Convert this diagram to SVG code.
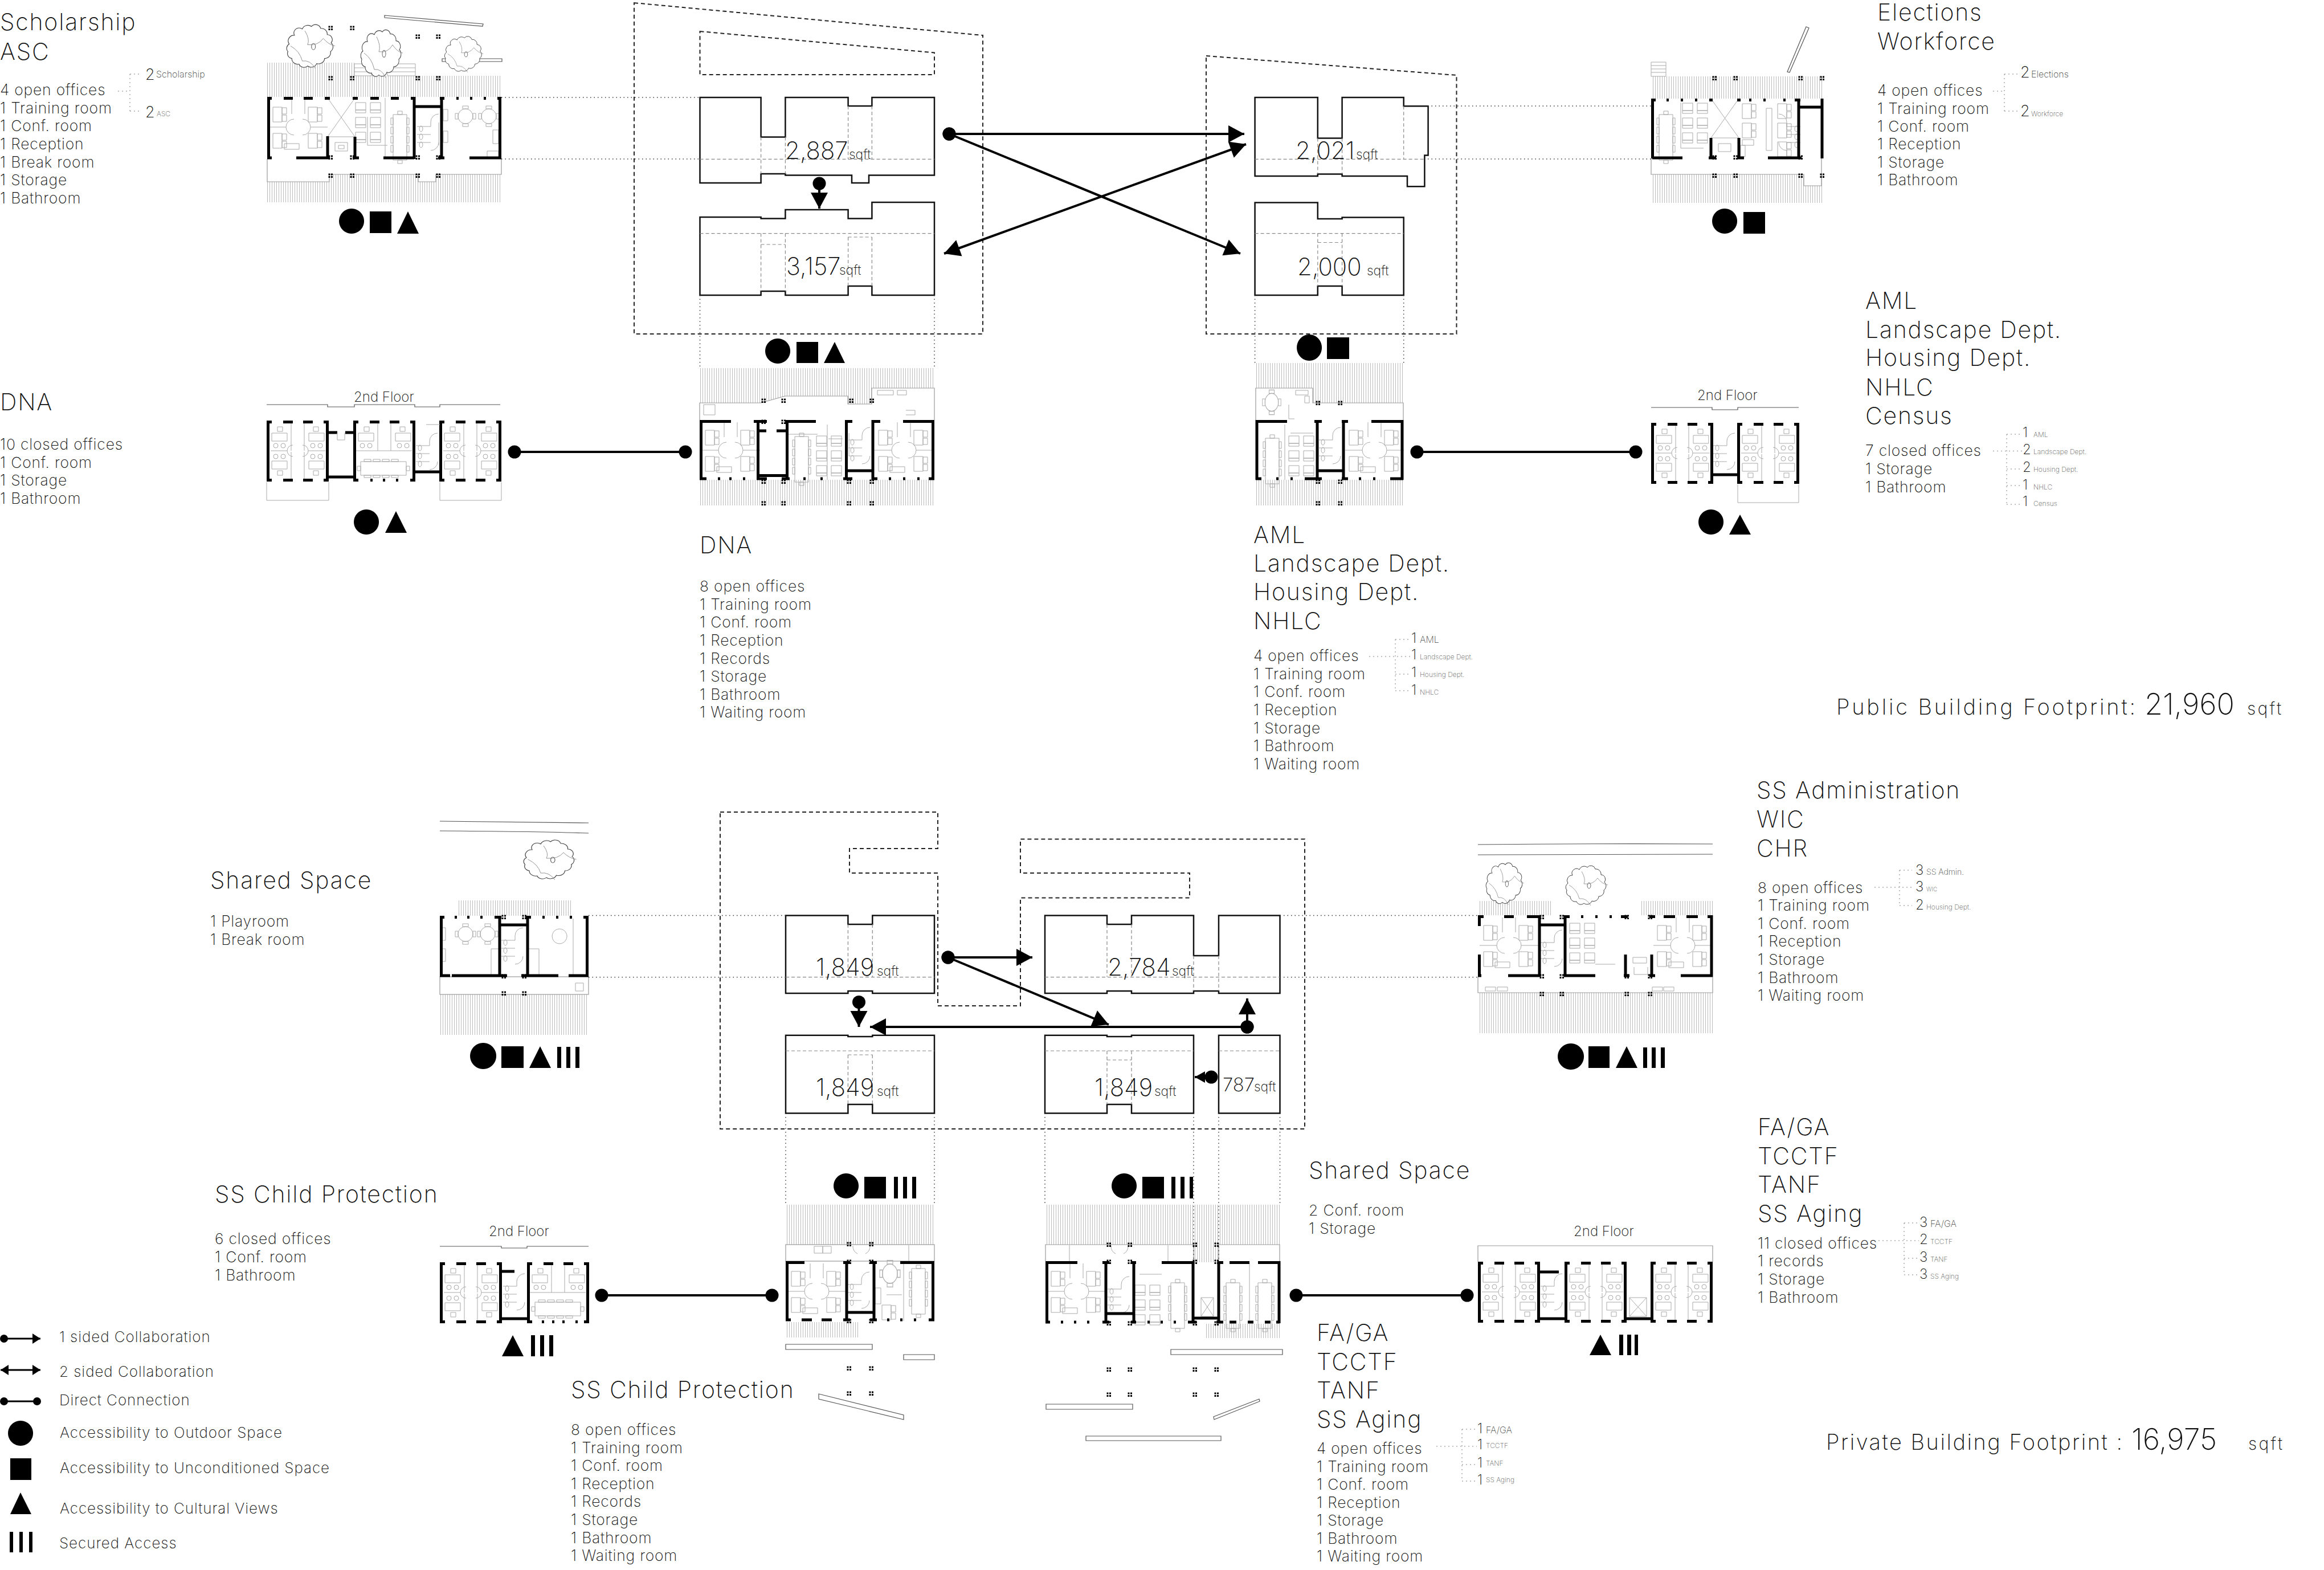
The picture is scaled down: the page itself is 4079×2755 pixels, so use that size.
<svg xmlns="http://www.w3.org/2000/svg" width="4079" height="2755" viewBox="0 0 4079 2755">
<style>
text{font-family:"Inter","Liberation Sans",sans-serif;font-weight:250;fill:#111}
.h{font-size:41px;letter-spacing:1.8px}.l{font-size:26.5px;letter-spacing:.8px}.n{font-size:42px}.q{font-size:23px}.d2{font-size:27px}.sm{font-size:12px;fill:#555}.md{font-size:16px;fill:#444}.fl{font-size:24px}.leg{font-size:26px;letter-spacing:.95px}.ft{font-size:38px}.fb{font-size:52px}.fs{font-size:30px}
.w{fill:none;stroke:#000;stroke-width:5}.f{fill:none;stroke:#aaa;stroke-width:1}.lob{fill:#fff;stroke:#999;stroke-width:1.2}.s{fill:url(#hatch)}.b{fill:#000}
.bar{fill:#fff;stroke:#555;stroke-width:1.2}.rd{fill:none;stroke:#555;stroke-width:1.2}
.dot{fill:none;stroke:#333;stroke-width:1.5;stroke-dasharray:1.5 5}.bd{fill:none;stroke:#aaa;stroke-width:1.5;stroke-dasharray:2 5}
.mass{fill:none;stroke:#222;stroke-width:2;stroke-dasharray:7 5}.blk{fill:none;stroke:#111;stroke-width:2.5}.hid{fill:none;stroke:#888;stroke-width:1.2;stroke-dasharray:6 4}
.c{fill:none;stroke:#000;stroke-width:4}.cs{fill:none;stroke:#000;stroke-width:3}
</style>
<defs>
<pattern id="hatch" width="4" height="8" patternUnits="userSpaceOnUse"><rect x="1" width="1" height="8" fill="#bbb"/></pattern>
<marker id="ah" markerUnits="userSpaceOnUse" viewBox="-30 -18 34 36" markerWidth="34" markerHeight="36" refX="0" refY="0" orient="auto-start-reverse"><path d="M-28 -15L0 0L-28 15Z"/></marker>
<marker id="ahm" markerUnits="userSpaceOnUse" viewBox="-20 -12 22 24" markerWidth="22" markerHeight="24" refX="0" refY="0" orient="auto"><path d="M-18 -10L0 0L-18 10Z"/></marker>
<marker id="nd" markerUnits="userSpaceOnUse" viewBox="-13 -13 26 26" markerWidth="26" markerHeight="26" refX="0" refY="0"><circle r="11.5"/></marker>
<marker id="ahs" markerUnits="userSpaceOnUse" viewBox="-16 -11 18 22" markerWidth="18" markerHeight="22" refX="0" refY="0" orient="auto-start-reverse"><path d="M-14 -9L0 0L-14 9Z"/></marker>
<marker id="nds" markerUnits="userSpaceOnUse" viewBox="-9 -9 18 18" markerWidth="18" markerHeight="18" refX="0" refY="0"><circle r="7"/></marker>
<g id="col" class="b"><rect x="-3.5" y="-3.5" width="3" height="3"/><rect x="1" y="-3.5" width="3" height="3"/><rect x="-3.5" y="1" width="3" height="3"/><rect x="1" y="1" width="3" height="3"/></g>
<path id="dsk" class="f" d="M0 4h16v26h-16zM16 5h8v11h-8zM16 18h8v11h-8z"/>
<path id="tbl" class="f" d="M0 6h24v80h-24zM8 0h8v6h-8zM8 86h8v6h-8zM-4 12h4v12h-4zM-4 28h4v12h-4zM-4 44h4v12h-4zM-4 60h4v12h-4zM24 12h4v12h-4zM24 28h4v12h-4zM24 44h4v12h-4zM24 60h4v12h-4z"/>
<path id="htbl" class="f" d="M6 0h80v24h-80zM0 8h6v8h-6zM86 8h6v8h-6zM12 -4h12v4h-12zM28 -4h12v4h-12zM44 -4h12v4h-12zM60 -4h12v4h-12zM12 24h12v4h-12zM28 24h12v4h-12zM44 24h12v4h-12zM60 24h12v4h-12z"/>
<path id="trn" class="f" d="M0 0h18v13h-18zM26 0h18v13h-18zM0 26h18v13h-18zM26 26h18v13h-18zM0 52h18v13h-18zM26 52h18v13h-18zM0 13h18v5h-18zM26 13h18v5h-18zM0 39h18v5h-18zM26 39h18v5h-18zM0 65h18v5h-18zM26 65h18v5h-18z"/>
<g id="rt" class="f"><circle r="13"/><path d="M-5 -18h10v5h-10zM-5 13h10v5h-10zM-18 -5h5v10h-5zM13 -5h5v10h-5z"/></g>
<path id="wc" class="f" d="M0 22H24M0 36H24M0 50H24M24 22V14A14 14 0 0 1 38 0M24 64A14 14 0 0 0 38 50M4 26a3 5 0 1 0 6 0a3 5 0 1 0-6 0zM4 40a3 5 0 1 0 6 0a3 5 0 1 0-6 0zM4 54a3 5 0 1 0 6 0a3 5 0 1 0-6 0z"/>
<g id="ofc" class="f"><path d="M15 6h9v8h-9zM5 17h27v14h-27z"/><circle cx="12" cy="39" r="4"/><circle cx="25" cy="39" r="4"/></g>
<g id="closed4">
<path class="f" d="M43 5V53M66 5V53M43 55V103M66 55V103M7 53H36M73 53H103M36 53A10 10 0 0 1 46 43M73 53A10 10 0 0 0 63 43M36 53A10 10 0 0 0 46 63M73 53A10 10 0 0 1 63 63"/>
<use href="#ofc" x="4" y="5"/><use href="#ofc" transform="translate(106 5) scale(-1 1)"/><use href="#ofc" transform="translate(4 102) scale(1 -1)"/><use href="#ofc" transform="translate(106 102) scale(-1 -1)"/>
<path class="w" d="M2.5 0V107M106.5 0V107M0 2.5H9M29 2.5H46M64 2.5H81M100 2.5H109M0 104.5H9M29 104.5H46M64 104.5H81M100 104.5H109"/>
</g>
<g id="open">
<path class="f" d="M3 53H33M76 53H106M33 53A14 14 0 0 1 47 39M76 53A14 14 0 0 0 62 39M33 53A14 14 0 0 0 47 67M76 53A14 14 0 0 1 62 67M43 4V30M66 4V30"/>
<use href="#dsk" x="10" y="14"/><use href="#dsk" x="72" y="14"/><use href="#dsk" x="10" y="60"/><use href="#dsk" x="72" y="60"/>
<path class="f" d="M30 92h26v-10h-26z"/>
</g>
<g id="tree"><path fill="#fff" stroke="#444" stroke-width="1" d="M-38 5a8 8 0 0 1 2-12a9 9 0 0 1 8-14a8 8 0 0 1 12-10a9 9 0 0 1 14-4a8 8 0 0 1 14 3a9 9 0 0 1 10 10a8 8 0 0 1 6 13a9 9 0 0 1-1 14a9 9 0 0 1-9 11a9 9 0 0 1-12 8a9 9 0 0 1-14 4a8 8 0 0 1-13-3a9 9 0 0 1-11-9a8 8 0 0 1-6-11z"/><path fill="none" stroke="#888" stroke-width=".8" d="M-34 -4q14 8 18 24q12 -2 20 12M-12 -28q8 14 4 22q16 2 24 -10q8 10 18 12"/><ellipse cx="1" cy="-3" rx="3" ry="5" fill="none" stroke="#666"/></g>
</defs>
<rect width="4079" height="2755" fill="#fff"/>

<g id="plan-scholarship">
<rect class="s" x="469" y="110" width="153" height="60"/><rect class="s" x="622" y="133" width="258" height="37"/><rect class="s" x="469" y="306" width="411" height="49"/>
<path class="lob" d="M469 279V319H578V306H734V319H765V306H880V279"/>
<path class="f" d="M622 112h30v21h-30zM622 119h30M622 126h30M680 112h49v21h-49zM680 119h49M680 126h49"/>
<use href="#tree" transform="translate(549 85) scale(1.15 1.1)"/><use href="#tree" transform="translate(673 98) scale(1 1.2)"/>
<path class="bar" d="M675 27L848 42L847 46L675 31ZM776 103h105v5h-105z"/>
<use href="#tree" transform="translate(817 98) scale(.92 .9)"/>
<use href="#open" x="469" y="170"/>
<path class="f" d="M575 172L623 240M623 172L575 240M575 240H623M676 172V277M645 205V255H680M770 215V255"/>
<path class="f" d="M588 250h22v15h-22zM594 255h10v6h-10z"/>
<use href="#trn" x="624" y="180"/><use href="#tbl" x="690" y="195"/><use href="#wc" x="732" y="200"/>
<use href="#rt" x="817" y="204"/><use href="#rt" x="858" y="204"/>
<path class="f" d="M778 192h8v20h-8zM778 230h8v20h-8zM865 228h10v24h-10zM855 265h20v12h-20z"/>
<path class="w" d="M471.5 170V279M877.5 170V279M727 170V279M775 170V279M727 187H775M575 239V279M623 240V279M469 172.5H477M498 172.5H514M533 172.5H549M570 172.5H579M619 172.5H628M650 172.5H665M686 172.5H700M721 172.5H729M772 172.5H780M801 172.5H805M825 172.5H829M849 172.5H853M873 172.5H880M469 277H477M520 277H579M619 277H630M673 277H727M769 277H780M824 277H880"/>
<use href="#col" x="580" y="49"/><use href="#col" x="618" y="49"/><use href="#col" x="733" y="64"/><use href="#col" x="769" y="64"/><use href="#col" x="580" y="137"/><use href="#col" x="618" y="137"/><use href="#col" x="733" y="137"/><use href="#col" x="769" y="137"/><use href="#col" x="580" y="276"/><use href="#col" x="618" y="276"/><use href="#col" x="733" y="276"/><use href="#col" x="769" y="276"/><use href="#col" x="580" y="308"/><use href="#col" x="618" y="308"/><use href="#col" x="733" y="308"/><use href="#col" x="769" y="308"/>
<path class="b" d="M617 366a22 22 0 1 0 .1 0zM649 371h38v38h-38zM716 371L735 410H697Z"/>
</g>

<g id="plan-elections">
<rect class="s" x="2898" y="134" width="303" height="39"/><rect class="s" x="2898" y="306" width="303" height="50"/>
<path class="lob" d="M2898 278V306H3166V326H3197V278"/>
<path class="f" d="M2898 109h26v25h-26zM2898 115h26M2898 121h26M2898 127h26"/>
<path class="bar" d="M3137 126L3170 47L3175 49L3141 127Z"/>
<use href="#tbl" x="2912" y="195"/><use href="#trn" x="2953" y="181"/>
<path class="f" d="M3003 173L3052 242M3052 173L3003 242M3003 242H3052M3016 252h22v14h-22zM2950 180V260H2990"/>
<use href="#dsk" x="3058" y="178"/><use href="#dsk" x="3058" y="212"/><use href="#dsk" x="3120" y="178"/><use href="#dsk" x="3120" y="212"/><use href="#dsk" x="3120" y="245"/>
<path class="f" d="M3100 190h10v74h-10zM3058 245h20v10h-20zM3055 255h8v20h-8z"/>
<use href="#wc" x="3162" y="200" transform="translate(6322 0) scale(-1 1)"/>
<path class="w" d="M2900.5 173V278M3003 242V278M3052 242V278M3157 173V278M3198 173V278M3157 188H3198M2898 175.5H2906M2925 175.5H2929M2950 175.5H2954M2975 175.5H2979M3000 175.5H3006M3049 175.5H3055M3070 175.5H3074M3095 175.5H3099M3130 175.5H3134M3150 175.5H3160M2900 277H2953M2999 277H3012M3049 277H3061M3103 277H3162"/>
<use href="#col" x="3009" y="137"/><use href="#col" x="3046" y="137"/><use href="#col" x="3160" y="137"/><use href="#col" x="3198" y="137"/><use href="#col" x="3009" y="276"/><use href="#col" x="3046" y="276"/><use href="#col" x="3160" y="276"/><use href="#col" x="3009" y="308"/><use href="#col" x="3046" y="308"/><use href="#col" x="3160" y="308"/><use href="#col" x="3198" y="308"/>
<path class="b" d="M3027 366a22 22 0 1 0 .1 0zM3060 372h38v38h-38z"/>
</g>

<g id="plan-dna-2nd">
<path class="rd" d="M468 710H575V714H622V710H728V714H772V710H878"/>
<path class="f" d="M468 846V878H577V846M772 846V878H880V846"/>
<use href="#closed4" x="468" y="738"/>
<g transform="translate(620 738)"><use href="#ofc" x="4" y="5"/><use href="#ofc" transform="translate(106 5) scale(-1 1)"/><path class="f" d="M43 5V53M66 5V53M5 53H103"/><use href="#htbl" x="7" y="72"/><path class="w" d="M2.5 0V107M106.5 0V107M0 2.5H9M29 2.5H46M64 2.5H81M100 2.5H109M0 104.5H9M30 104.5H34M52 104.5H56M75 104.5H79M100 104.5H109"/></g>
<use href="#closed4" x="771" y="738"/>
<use href="#wc" x="730" y="760"/>
<path class="w" d="M577 759H592M606 759H622M577 837H622M728 828H772"/>
<path class="f" d="M592 759V772H605V759M748 745H772"/>
<path class="b" d="M643 894a22 22 0 1 0 .1 0zM695 897L714 935H676Z"/>
</g>

<g id="plan-dna-1st">
<rect class="s" x="1228" y="646" width="412" height="91"/><rect class="s" x="1228" y="842" width="412" height="45"/>
<path class="lob" d="M1228 737V707H1335L1378 695H1488V709H1530V681H1640V737"/>
<path class="f" d="M1540 685h28v8h-28zM1575 685h16v8h-16zM1235 710h20v18h-20zM1590 720h16v8h-16"/>
<use href="#open" x="1228" y="737"/><use href="#open" x="1532" y="737"/>
<path class="f" d="M1381 762H1435M1452 745V842M1454 770h25M1490 760V800"/>
<use href="#tbl" x="1395" y="760"/><use href="#trn" x="1433" y="765"/><use href="#wc" x="1489" y="750"/>
<path class="w" d="M1230.5 737V842M1637.5 737V842M1330.5 737V842M1381.5 737V842M1485.5 737V842M1532 737V842M1333 756H1345M1363 756H1379M1333 834.5H1379M1488 826H1530M1228 739.5H1283M1323 739.5H1346M1378 739.5H1432M1483 739.5H1496M1530 739.5H1545M1585 739.5H1640M1228 840H1240M1260 840H1264M1280 840H1284M1304 840H1308M1328 840H1346M1372 840H1386M1410 840H1414M1440 840H1444M1480 840H1496M1530 840H1540M1560 840H1564M1585 840H1589M1610 840H1614M1630 840H1640"/>
<use href="#col" x="1340" y="703"/><use href="#col" x="1375" y="703"/><use href="#col" x="1494" y="703"/><use href="#col" x="1530" y="703"/><use href="#col" x="1340" y="740"/><use href="#col" x="1375" y="740"/><use href="#col" x="1340" y="845"/><use href="#col" x="1375" y="845"/><use href="#col" x="1490" y="845"/><use href="#col" x="1530" y="845"/><use href="#col" x="1340" y="883"/><use href="#col" x="1375" y="883"/><use href="#col" x="1490" y="883"/><use href="#col" x="1530" y="883"/>
<path class="b" d="M1365 594a22 22 0 1 0 .1 0zM1398 600h38v37h-38zM1465 600L1483 637H1446Z"/>
</g>

<g id="plan-aml-1st">
<rect class="s" x="2204" y="637" width="259" height="100"/><rect class="s" x="2204" y="842" width="259" height="45"/>
<path class="lob" d="M2204 737V681H2304V707H2463V737"/>
<use href="#rt" transform="translate(2232 706) scale(.9 1.2)"/>
<path class="f" d="M2274 685h22v8h-22zM2290 695h8v12h-8zM2262 710V735H2272"/>
<use href="#tbl" x="2221" y="763"/><use href="#trn" x="2262" y="765"/><use href="#open" x="2358" y="737"/><use href="#wc" x="2315" y="750"/>
<path class="f" d="M2255 745V842M2265 760H2305"/>
<path class="w" d="M2206 737V842M2461 737V842M2312 737V842M2358 737V842M2314 826H2356M2204 739.5H2259M2307 739.5H2320M2355 739.5H2366M2407 739.5H2463M2204 840H2214M2240 840H2244M2265 840H2269M2290 840H2320M2355 840H2366M2385 840H2389M2410 840H2414M2440 840H2463"/>
<use href="#col" x="2313" y="707"/><use href="#col" x="2352" y="707"/><use href="#col" x="2313" y="845"/><use href="#col" x="2352" y="845"/><use href="#col" x="2313" y="883"/><use href="#col" x="2352" y="883"/>
<path class="b" d="M2298 587a22 23 0 1 0 .1 0zM2329 592h39v38h-39z"/>
</g>

<g id="plan-aml-2nd">
<path class="rd" d="M2898 715H3005V719H3050V715H3157"/>
<path class="f" d="M3050 850V882H3157V850"/>
<use href="#closed4" x="2898" y="742"/><use href="#closed4" x="3049" y="742"/><use href="#wc" x="3007" y="760"/>
<path class="w" d="M3005 833H3050"/>
<path class="b" d="M3003 894a22 22 0 1 0 .1 0zM3054 903L3073 938H3035Z"/>
</g>

<g id="plan-shared">
<path class="rd" d="M772 1441Q940 1443 1033 1444M772 1458Q940 1459 1033 1462"/>
<use href="#tree" transform="translate(969 1512) scale(1.25 1)"/>
<rect class="s" x="802" y="1580" width="200" height="27"/><rect class="s" x="772" y="1745" width="261" height="71"/>
<rect class="lob" x="772" y="1714" width="261" height="31"/>
<use href="#rt" x="817" y="1639"/><use href="#rt" x="856" y="1639"/>
<path class="f" d="M776 1628h6v22h-6zM776 1665h6v22h-6zM862 1665h14v48h-14zM1006 1612V1712M926 1665h20v47h-20zM982 1630a13 13 0 1 0 .1 0zM1010 1725h14v14h-14z"/>
<use href="#wc" x="880" y="1628"/>
<path class="w" d="M774.5 1607V1714M877 1607V1714M926 1607V1714M1030.5 1607V1714M877 1623H926M772 1609.5H780M798 1609.5H802M820 1609.5H824M843 1609.5H847M868 1609.5H880M922 1609.5H932M952 1609.5H956M976 1609.5H980M1000 1609.5H1004M1024 1609.5H1033M772 1712H790M793 1712H877M926 1712H980M998 1712H1033M877 1712H890M915 1712H926"/>
<use href="#col" x="884" y="1609"/><use href="#col" x="920" y="1609"/><use href="#col" x="884" y="1713"/><use href="#col" x="920" y="1713"/><use href="#col" x="884" y="1743"/><use href="#col" x="920" y="1743"/>
<path class="b" d="M848 1830a23 23 0 1 0 .1 0zM880 1836h39v38h-39zM948 1836L967 1874H929ZM978 1837h7v37h-7zM994 1837h7v37h-7zM1010 1837h7v37h-7z"/>
</g>

<g id="plan-child-2nd">
<path class="rd" d="M772 2187H880V2190H925V2187H1033"/>
<use href="#closed4" x="772" y="2215"/>
<g transform="translate(925 2215)"><use href="#ofc" x="4" y="5"/><use href="#ofc" transform="translate(106 5) scale(-1 1)"/><path class="f" d="M43 5V53M66 5V53M5 53H103"/><use href="#htbl" x="8" y="70"/><path class="w" d="M2.5 0V107M106.5 0V107M0 2.5H9M29 2.5H46M64 2.5H81M100 2.5H109M0 104.5H9M26 104.5H30M44 104.5H48M62 104.5H66M85 104.5H89M100 104.5H109"/></g>
<use href="#wc" x="883" y="2235"/>
<path class="w" d="M880 2231H903M880 2314H925"/>
<path class="b" d="M900 2343L919 2380H881ZM932 2343h7v37h-7zM948 2343h7v37h-7zM964 2343h7v37h-7z"/>
</g>

<g id="plan-child-1st">
<rect class="s" x="1379" y="2114" width="261" height="70"/><rect class="s" x="1379" y="2320" width="130" height="27"/>
<rect class="lob" x="1379" y="2184" width="261" height="29"/>
<path class="f" d="M1429 2187h15v12h-15zM1444 2187h15v12h-15zM1497 2186a14 14 0 0 0 8 14M1527 2186a14 14 0 0 1-8 14M1595 2185V2213"/>
<use href="#open" x="1379" y="2213"/><use href="#wc" x="1488" y="2232"/><use href="#tbl" x="1600" y="2220"/>
<use href="#rt" transform="translate(1562 2235) scale(1 1.3)"/><use href="#dsk" x="1548" y="2286"/>
<path class="f" d="M1586 2216V2318M1536 2260h10v28h-10zM1556 2272H1583"/>
<path class="w" d="M1381.5 2213V2318M1637.5 2213V2318M1486 2213V2318M1534 2213V2318M1487 2303H1533M1379 2215.5H1412M1480 2215.5H1492M1527 2215.5H1539M1580 2215.5H1640M1379 2316H1388M1407 2316H1425M1442 2316H1460M1480 2316H1492M1527 2316H1539M1557 2316H1561M1580 2316H1584M1604 2316H1608M1630 2316H1640"/>
<use href="#col" x="1490" y="2183"/><use href="#col" x="1529" y="2183"/><use href="#col" x="1490" y="2214"/><use href="#col" x="1529" y="2214"/><use href="#col" x="1490" y="2318"/><use href="#col" x="1529" y="2318"/><use href="#col" x="1490" y="2401"/><use href="#col" x="1529" y="2401"/><use href="#col" x="1490" y="2445"/><use href="#col" x="1529" y="2445"/>
<path class="bar" d="M1379 2359h152v9h-152zM1586 2377h54v9h-54zM1437 2446L1586 2483V2491L1437 2455Z"/>
<path class="b" d="M1485 2059a22 22 0 1 0 .1 0zM1517 2065h38v38h-38zM1569 2065h7v38h-7zM1585 2065h7v38h-7zM1601 2065h7v38h-7z"/>
</g>

<g id="plan-shared-1st">
<rect class="s" x="1835" y="2114" width="411" height="71"/><rect class="s" x="2095" y="2185" width="44" height="30"/><rect class="s" x="2116" y="2323" width="130" height="25"/>
<path class="lob" d="M1835 2213V2184H2095V2213M2139 2213V2184H2246V2213"/>
<path class="f" d="M1950 2186a14 14 0 0 0 8 14M1980 2186a14 14 0 0 1-8 14M1877 2185V2213M2050 2185V2213"/>
<use href="#open" x="1835" y="2213"/><use href="#wc" x="1944" y="2240"/><use href="#trn" x="1992" y="2255"/>
<use href="#tbl" x="2055" y="2245"/><use href="#tbl" x="2152" y="2245"/><use href="#tbl" x="2208" y="2245"/>
<path class="f" d="M2193 2216V2322M2108 2277h22v33h-22zM2108 2277L2130 2310M2130 2277L2108 2310M2000 2236H2039"/>
<path class="w" d="M1837.5 2213V2322M1941 2213V2322M1990 2213V2322M2094 2213V2322M2139 2213V2322M2245 2213V2322M1942 2305H1989M2094 2313H2139M1835 2215.5H1891M1935 2215.5H1947M1985 2215.5H1994M2039 2215.5H2094M2139 2215.5H2147M2158 2215.5H2193M2208 2215.5H2246M1835 2320H1843M1862 2320H1866M1885 2320H1889M1908 2320H1912M1935 2320H1947M1985 2320H1994M2014 2320H2018M2037 2320H2041M2060 2320H2064M2085 2320H2100M2135 2320H2147M2158 2320H2170M2190 2320H2200M2220 2320H2230M2240 2320H2246"/>
<use href="#col" x="1946" y="2184"/><use href="#col" x="1983" y="2184"/><use href="#col" x="2097" y="2184"/><use href="#col" x="2135" y="2184"/><use href="#col" x="1946" y="2214"/><use href="#col" x="1983" y="2214"/><use href="#col" x="2097" y="2214"/><use href="#col" x="2135" y="2214"/><use href="#col" x="1946" y="2322"/><use href="#col" x="1983" y="2322"/><use href="#col" x="2097" y="2322"/><use href="#col" x="2135" y="2322"/><use href="#col" x="1946" y="2403"/><use href="#col" x="1983" y="2403"/><use href="#col" x="2097" y="2403"/><use href="#col" x="2135" y="2403"/><use href="#col" x="1946" y="2447"/><use href="#col" x="1983" y="2447"/><use href="#col" x="2097" y="2447"/><use href="#col" x="2135" y="2447"/>
<path class="bar" d="M2055 2368h196v9h-196zM1836 2464h152v9h-152zM1906 2520h237v8h-237zM2130 2486L2210 2455L2211 2459L2131 2491Z"/>
<path class="b" d="M1973 2059a22 22 0 1 0 .1 0zM2005 2065h38v38h-38zM2056 2065h7v38h-7zM2072 2065h7v38h-7zM2088 2065h6v38h-6z"/>
</g>

<g id="plan-fa-2nd">
<path class="lob" d="M2594 2214V2186H3006V2214"/>
<use href="#closed4" x="2594" y="2214"/><use href="#closed4" x="2746" y="2214"/><use href="#closed4" x="2897" y="2214"/><use href="#wc" x="2704" y="2235"/>
<path class="f" d="M2860 2277h30v33h-30zM2860 2277L2890 2310M2890 2277L2860 2310"/>
<path class="w" d="M2702 2232H2736M2702 2314H2746M2853 2314H2897"/>
<path class="b" d="M2809 2342L2828 2378H2790ZM2842 2342h7v36h-7zM2856 2342h7v36h-7zM2869 2342h6v36h-6z"/>
</g>

<g id="plan-ss-admin">
<path class="rd" d="M2594 1482Q2800 1480 3006 1481M2594 1500Q2800 1500 3006 1499"/>
<rect class="s" x="2594" y="1581" width="130" height="25"/><rect class="s" x="2880" y="1581" width="126" height="25"/><rect class="s" x="2594" y="1742" width="412" height="71"/>
<use href="#tree" transform="translate(2644 1554) scale(.9 1.05)"/><use href="#tree" transform="translate(2788 1557) scale(1 1)"/>
<path class="lob" d="M2594 1714V1742H3006V1714"/>
<path class="f" d="M2607 1732h18v7h-18zM2628 1732h18v7h-18zM2900 1732h18v7h-18zM2920 1732h18v7h-18zM2868 1697V1710H2892V1697M2866 1680h24v10h-24zM2800 1692H2835"/>
<use href="#open" x="2594" y="1606"/><use href="#open" x="2899" y="1606"/><use href="#wc" x="2704" y="1632"/><use href="#trn" x="2755" y="1620"/>
<path class="w" d="M2596.5 1606V1625M2596.5 1675V1714M2702 1606V1714M2747 1606V1714M2853 1675V1714M2899 1675V1714M3004 1606V1714M2702 1623H2747M2594 1608.5H2604M2640 1608.5H2657M2680 1608.5H2704M2745 1608.5H2755M2775 1608.5H2779M2800 1608.5H2804M2825 1608.5H2829M2845 1608.5H2857M2895 1608.5H2905M2920 1608.5H2940M2960 1608.5H2980M2997 1608.5H3006M2594 1712H2600M2647 1712H2702M2745 1712H2800M2850 1712H2860M2895 1712H2905M2950 1712H3006"/>
<use href="#col" x="2706" y="1609"/><use href="#col" x="2741" y="1609"/><use href="#col" x="2855" y="1609"/><use href="#col" x="2896" y="1609"/><use href="#col" x="2706" y="1713"/><use href="#col" x="2741" y="1713"/><use href="#col" x="2855" y="1713"/><use href="#col" x="2896" y="1713"/><use href="#col" x="2706" y="1744"/><use href="#col" x="2741" y="1744"/><use href="#col" x="2855" y="1744"/><use href="#col" x="2896" y="1744"/>
<path class="b" d="M2757 1831a23 23 0 1 0 .1 0zM2788 1836h37v38h-37zM2855 1836L2874 1874H2836ZM2884 1838h7v36h-7zM2899 1838h7v36h-7zM2915 1838h7v36h-7z"/>
</g>

<g id="massing-top">
<path class="mass" d="M1113 5L1725 62V586H1113Z"/><path class="mass" d="M1228.5 55L1640 92.5V131H1228.5Z"/><path class="mass" d="M2117 98L2556.5 132V586H2117Z"/>
<g id="block-2887"><path class="blk" d="M1228.5 171H1335.6V240.5H1378.4V171H1488.6V186H1530.4V171H1640V307.5H1525V321H1495V307.5H1378.4V305H1335.6V321H1228.5Z"/><path class="hid" d="M1228.5 279.4H1640M1335.6 240.5V305M1378.4 240.5V305M1488.6 186V279M1530.4 186V279"/><text class="n" x="1378" y="279">2,887</text><text class="q" x="1490" y="279">sqft</text></g>
<g id="block-3157"><path class="blk" d="M1228.5 381H1335.6V383.4H1378.4V368H1488.6V383.4H1530.4V355H1640V518H1530.4V502H1488.6V518H1378.4V511H1335.6V518H1228.5Z"/><path class="hid" d="M1228.5 409.6H1640M1335.6 429H1378.4M1335.6 409.6V511M1378.4 409.6V511M1488.6 416H1530.4M1488.6 416V502M1530.4 416V502"/><text class="n" x="1380" y="482">3,157</text><text class="q" x="1473" y="482">sqft</text></g>
<g id="block-2021"><path class="blk" d="M2202.6 171H2312.8V242.4H2355.6V171H2463.7V186.3H2506.6V272.4H2500.4V327.3H2470V309H2355.6V305.6H2312.8V309H2202.6Z"/><path class="hid" d="M2202.6 279.4H2500M2463.7 186.3V279M2312.8 242.4V305M2355.6 242.4V305"/><text class="n" x="2274" y="279">2,021</text><text class="q" x="2380" y="279">sqft</text></g>
<g id="block-2000"><path class="blk" d="M2202.6 355.4H2312.8V384H2355.6V381.5H2463.7V518H2355.6V502H2312.8V518H2202.6Z"/><path class="hid" d="M2202.6 409.6H2463.7M2312.8 425.5H2355.6M2312.8 409.6V502M2355.6 409.6V502"/><text class="n" x="2277" y="483">2,000</text><text class="q" x="2399" y="483">sqft</text></g>
</g>

<g id="massing-bottom">
<path class="mass" d="M1264 1425H1646V1489H1491V1532H1646V1765H1791V1575.5H2088V1532H1791V1472.4H2290V1981H1264Z"/>
<g id="block-1849a"><path class="blk" d="M1379 1606.6H1488.4V1622H1531.3V1606.6H1640V1743H1531.3V1739H1488.4V1743H1379Z"/><path class="hid" d="M1379 1714.7H1640M1488.4 1622V1714M1531.3 1622V1714"/><text class="n" x="1432" y="1712">1,849</text><text class="q" x="1539" y="1712">sqft</text></g>
<g id="block-2784"><path class="blk" d="M1834 1606.6H1943V1622H1986V1606.6H2095V1677H2139V1606.6H2246.5V1743H2139V1739H2095V1743H1986V1739H1943V1743H1834Z"/><path class="hid" d="M1834 1714.7H2246.5M1943 1622V1714M1986 1622V1714M2095 1677V1739M2139 1677V1739"/><text class="n" x="1944" y="1712">2,784</text><text class="q" x="2057" y="1712">sqft</text></g>
<g id="block-1849b"><path class="blk" d="M1379 1816.7H1488.4V1819H1531.3V1816.7H1640V1953.5H1531.3V1938H1488.4V1953.5H1379Z"/><path class="hid" d="M1379 1844H1640M1488.4 1851H1531.3M1488.4 1851V1938M1531.3 1851V1938"/><text class="n" x="1432" y="1923">1,849</text><text class="q" x="1539" y="1923">sqft</text></g>
<g id="block-1849c"><path class="blk" d="M1834 1816.7H1943V1819H1986V1816.7H2095V1953.5H1986V1938H1943V1953.5H1834Z"/><path class="hid" d="M1834 1844H2095M1943 1860H1986M1943 1844V1938M1986 1844V1938"/><text class="n" x="1921" y="1923">1,849</text><text class="q" x="2026" y="1923">sqft</text></g>
<g id="block-787"><path class="blk" d="M2139 1816.7H2246.5V1953.5H2139Z"/><path class="hid" d="M2139 1844H2246.5"/><text style="font-size:33px" x="2146" y="1915">787</text><text class="q" x="2201" y="1915">sqft</text></g>
</g>

<g id="connectors">
<path class="dot" d="M880 171H1228M880 279H1228M2506 186H2898M2506 279H2898M1228.5 518V646M1640 518V646M2202.6 518V637M2463.7 518V637"/>
<path class="dot" d="M1033 1606.6H1379M1033 1714.7H1379M2246.5 1606.6H2594M2246.5 1714.7H2594M1379 1953.5V2114M1640 1953.5V2114M1834 1953.5V2114M2095 1953.5V2214M2139 1953.5V2214M2246.5 1953.5V2114"/>
<path class="c" marker-start="url(#nd)" marker-end="url(#ah)" d="M1666 235H2184"/>
<path class="c" marker-start="url(#nd)" marker-end="url(#ah)" d="M1666 235L2177 445"/>
<path class="c" marker-start="url(#ah)" marker-end="url(#ah)" d="M1657 445L2187 253"/>
<path class="c" marker-start="url(#nd)" marker-end="url(#ah)" d="M1438 322V366"/>
<path class="c" marker-start="url(#nd)" marker-end="url(#nd)" d="M903 793H1203"/>
<path class="c" marker-start="url(#nd)" marker-end="url(#nd)" d="M2487 793H2871"/>
<path class="c" marker-start="url(#nd)" marker-end="url(#ah)" d="M1664 1680H1812"/>
<path class="c" marker-start="url(#nd)" marker-end="url(#ah)" d="M1664 1680L1946 1798"/>
<path class="c" marker-start="url(#nd)" marker-end="url(#ah)" d="M1507.5 1758.5V1802"/>
<path class="c" marker-start="url(#nd)" marker-end="url(#ah)" d="M2189 1802H1527"/>
<path class="c" marker-start="url(#nd)" marker-end="url(#ah)" d="M2189 1802V1752"/>
<path class="c" marker-start="url(#nd)" marker-end="url(#ahm)" d="M2126 1890H2097"/>
<path class="c" marker-start="url(#nd)" marker-end="url(#nd)" d="M1056 2273H1355"/>
<path class="c" marker-start="url(#nd)" marker-end="url(#nd)" d="M2275 2273H2575"/>
<path class="bd" d="M207 160H228M228 130V195M228 130H246M228 195H246"/>
<path class="bd" d="M3498 160H3518M3518 130V195M3518 130H3544M3518 195H3544"/>
<path class="bd" d="M3498 791.5H3550M3522 762V885M3522 762H3550M3522 823H3550M3522 852H3550M3522 885H3550"/>
<path class="bd" d="M2403 1152H2475M2449 1122V1212M2449 1122H2475M2449 1183H2475M2449 1212H2475"/>
<path class="bd" d="M3290 1557H3356M3334 1527V1589M3334 1527H3356M3334 1589H3356"/>
<path class="bd" d="M3297 2177H3368M3342 2146V2237M3342 2146H3368M3342 2208H3368M3342 2237H3368"/>
<path class="bd" d="M2521 2538H2592M2566 2508V2599M2566 2508H2592M2566 2570H2592M2566 2599H2592"/>
</g>

<g id="label-scholarship">
<text class="h" x="0" y="53">Scholarship</text><text class="h" x="0" y="105">ASC</text>
<text class="l" x="0" y="167">4 open offices</text><text class="l" x="0" y="198.5">1 Training room</text><text class="l" x="0" y="230">1 Conf. room</text><text class="l" x="0" y="262">1 Reception</text><text class="l" x="0" y="293.5">1 Break room</text><text class="l" x="0" y="325">1 Storage</text><text class="l" x="0" y="356.5">1 Bathroom</text>
<text class="d2" x="255" y="140">2</text><text class="md" x="274" y="136">Scholarship</text><text class="d2" x="255" y="206">2</text><text class="sm" x="275" y="204">ASC</text>
</g>
<g id="label-dna-left">
<text class="h" x="0" y="720">DNA</text>
<text class="l" x="0" y="789">10 closed offices</text><text class="l" x="0" y="820.5">1 Conf. room</text><text class="l" x="0" y="852">1 Storage</text><text class="l" x="0" y="883.5">1 Bathroom</text>
<text class="fl" x="621" y="705">2nd Floor</text>
</g>
<g id="label-dna-center">
<text class="h" x="1228" y="971">DNA</text>
<text class="l" x="1228" y="1038">8 open offices</text><text class="l" x="1228" y="1069.5">1 Training room</text><text class="l" x="1228" y="1101">1 Conf. room</text><text class="l" x="1228" y="1133">1 Reception</text><text class="l" x="1228" y="1164.5">1 Records</text><text class="l" x="1228" y="1196">1 Storage</text><text class="l" x="1228" y="1227.5">1 Bathroom</text><text class="l" x="1228" y="1259">1 Waiting room</text>
</g>
<g id="label-aml-center">
<text class="h" x="2200" y="953">AML</text><text class="h" x="2200" y="1003">Landscape Dept.</text><text class="h" x="2200" y="1053">Housing Dept.</text><text class="h" x="2200" y="1104">NHLC</text>
<text class="l" x="2200" y="1160">4 open offices</text><text class="l" x="2200" y="1192">1 Training room</text><text class="l" x="2200" y="1223">1 Conf. room</text><text class="l" x="2200" y="1255">1 Reception</text><text class="l" x="2200" y="1287">1 Storage</text><text class="l" x="2200" y="1318">1 Bathroom</text><text class="l" x="2200" y="1350">1 Waiting room</text>
<text class="fl" x="2477" y="1128">1</text><text class="md" x="2492" y="1128">AML</text><text class="fl" x="2477" y="1157">1</text><text class="sm" x="2492" y="1157">Landscape Dept.</text><text class="fl" x="2477" y="1188">1</text><text class="sm" x="2492" y="1188">Housing Dept.</text><text class="fl" x="2477" y="1219">1</text><text class="sm" x="2492" y="1219">NHLC</text>
</g>
<g id="label-elections">
<text class="h" x="3295" y="36">Elections</text><text class="h" x="3295" y="87">Workforce</text>
<text class="l" x="3295" y="168">4 open offices</text><text class="l" x="3295" y="199.5">1 Training room</text><text class="l" x="3295" y="231">1 Conf. room</text><text class="l" x="3295" y="262">1 Reception</text><text class="l" x="3295" y="294">1 Storage</text><text class="l" x="3295" y="325">1 Bathroom</text>
<text class="d2" x="3546" y="136">2</text><text class="md" x="3565" y="136">Elections</text><text class="d2" x="3546" y="204">2</text><text class="sm" x="3565" y="204">Workforce</text>
</g>
<g id="label-aml-right">
<text class="fl" x="2979" y="702">2nd Floor</text>
<text class="h" x="3274" y="542">AML</text><text class="h" x="3274" y="593">Landscape Dept.</text><text class="h" x="3274" y="642">Housing Dept.</text><text class="h" x="3274" y="694">NHLC</text><text class="h" x="3274" y="744">Census</text>
<text class="l" x="3274" y="800">7 closed offices</text><text class="l" x="3274" y="832">1 Storage</text><text class="l" x="3274" y="864">1 Bathroom</text>
<text class="fl" x="3550" y="767">1</text><text class="sm" x="3569" y="767">AML</text><text class="fl" x="3550" y="797">2</text><text class="sm" x="3569" y="797">Landscape Dept.</text><text class="fl" x="3550" y="828">2</text><text class="sm" x="3569" y="828">Housing Dept.</text><text class="fl" x="3550" y="859">1</text><text class="sm" x="3569" y="859">NHLC</text><text class="fl" x="3550" y="888">1</text><text class="sm" x="3569" y="888">Census</text>
</g>
<g id="label-public"><text class="ft" x="3223" y="1254" textLength="525">Public Building Footprint:</text><text class="fb" x="3764" y="1254">21,960</text><text class="fs" x="3944" y="1254" textLength="60">sqft</text></g>
<g id="label-shared-left">
<text class="h" x="369" y="1559">Shared Space</text><text class="l" x="369" y="1626">1 Playroom</text><text class="l" x="369" y="1658">1 Break room</text>
</g>
<g id="label-child-left">
<text class="h" x="377" y="2110">SS Child Protection</text><text class="l" x="377" y="2183">6 closed offices</text><text class="l" x="377" y="2215">1 Conf. room</text><text class="l" x="377" y="2247">1 Bathroom</text>
<text class="fl" x="858" y="2169">2nd Floor</text>
</g>
<g id="label-ss-admin">
<text class="h" x="3083" y="1401">SS Administration</text><text class="h" x="3083" y="1452">WIC</text><text class="h" x="3083" y="1503">CHR</text>
<text class="l" x="3085" y="1567">8 open offices</text><text class="l" x="3085" y="1598">1 Training room</text><text class="l" x="3085" y="1630">1 Conf. room</text><text class="l" x="3085" y="1661">1 Reception</text><text class="l" x="3085" y="1693">1 Storage</text><text class="l" x="3085" y="1725">1 Bathroom</text><text class="l" x="3085" y="1756">1 Waiting room</text>
<text class="fl" x="3362" y="1535">3</text><text style="font-size:14px;fill:#444" x="3381" y="1535">SS Admin.</text><text class="fl" x="3362" y="1564">3</text><text style="font-size:10px;fill:#555" x="3381" y="1564">WIC</text><text class="fl" x="3362" y="1596">2</text><text class="sm" x="3381" y="1596">Housing Dept.</text>
</g>
<g id="label-shared-right">
<text class="h" x="2297" y="2068">Shared Space</text><text class="l" x="2297" y="2133">2 Conf. room</text><text class="l" x="2297" y="2165">1 Storage</text>
</g>
<g id="label-fa-right">
<text class="h" x="3085" y="1992">FA/GA</text><text class="h" x="3085" y="2043">TCCTF</text><text class="h" x="3085" y="2093">TANF</text><text class="h" x="3085" y="2144">SS Aging</text>
<text class="l" x="3085" y="2191">11 closed offices</text><text class="l" x="3085" y="2222">1 records</text><text class="l" x="3085" y="2254">1 Storage</text><text class="l" x="3085" y="2286">1 Bathroom</text>
<text class="fl" x="3369" y="2153">3</text><text class="md" x="3388" y="2153">FA/GA</text><text class="fl" x="3369" y="2183">2</text><text class="sm" x="3388" y="2183">TCCTF</text><text class="fl" x="3369" y="2214">3</text><text class="sm" x="3388" y="2214">TANF</text><text class="fl" x="3369" y="2244">3</text><text class="sm" x="3388" y="2244">SS Aging</text>
<text class="fl" x="2762" y="2169">2nd Floor</text>
</g>
<g id="label-child-center">
<text class="h" x="1002" y="2453">SS Child Protection</text>
<text class="l" x="1002" y="2518">8 open offices</text><text class="l" x="1002" y="2549.5">1 Training room</text><text class="l" x="1002" y="2581">1 Conf. room</text><text class="l" x="1002" y="2613">1 Reception</text><text class="l" x="1002" y="2644">1 Records</text><text class="l" x="1002" y="2676">1 Storage</text><text class="l" x="1002" y="2708">1 Bathroom</text><text class="l" x="1002" y="2739">1 Waiting room</text>
</g>
<g id="label-fa-center">
<text class="h" x="2311" y="2353">FA/GA</text><text class="h" x="2311" y="2404">TCCTF</text><text class="h" x="2311" y="2454">TANF</text><text class="h" x="2311" y="2505">SS Aging</text>
<text class="l" x="2311" y="2551">4 open offices</text><text class="l" x="2311" y="2583">1 Training room</text><text class="l" x="2311" y="2614">1 Conf. room</text><text class="l" x="2311" y="2646">1 Reception</text><text class="l" x="2311" y="2677">1 Storage</text><text class="l" x="2311" y="2709">1 Bathroom</text><text class="l" x="2311" y="2740">1 Waiting room</text>
<text class="fl" x="2593" y="2515">1</text><text class="md" x="2608" y="2515">FA/GA</text><text class="fl" x="2593" y="2543">1</text><text class="sm" x="2608" y="2541">TCCTF</text><text class="fl" x="2593" y="2575">1</text><text class="sm" x="2608" y="2572">TANF</text><text class="fl" x="2593" y="2605">1</text><text class="sm" x="2608" y="2601">SS Aging</text>
</g>
<g id="label-private"><text class="ft" x="3205" y="2544" textLength="520">Private Building Footprint :</text><text class="fb" x="3741" y="2544">16,975</text><text class="fs" x="3946" y="2544" textLength="60">sqft</text></g>

<g id="legend">
<path class="cs" marker-start="url(#nds)" marker-end="url(#ahs)" d="M7 2349H71"/><text class="leg" x="104" y="2355">1 sided Collaboration</text>
<path class="cs" marker-start="url(#ahs)" marker-end="url(#ahs)" d="M1 2404H71"/><text class="leg" x="104" y="2416">2 sided Collaboration</text>
<path class="cs" marker-start="url(#nds)" marker-end="url(#nds)" d="M7 2459H65"/><text class="leg" x="104" y="2466">Direct Connection</text>
<path class="b" d="M36 2493a22 22 0 1 0 .1 0z"/><text class="leg" x="105" y="2523">Accessibility to Outdoor Space</text>
<path class="b" d="M18 2559h37v38h-37z"/><text class="leg" x="105" y="2585">Accessibility to Unconditioned Space</text>
<path class="b" d="M36 2619L55 2657H18Z"/><text class="leg" x="105" y="2656">Accessibility to Cultural Views</text>
<path class="b" d="M17 2688h6v36h-6zM34 2688h6v36h-6zM51 2688h6v36h-6z"/><text class="leg" x="104" y="2717">Secured Access</text>
</g>
</svg>
